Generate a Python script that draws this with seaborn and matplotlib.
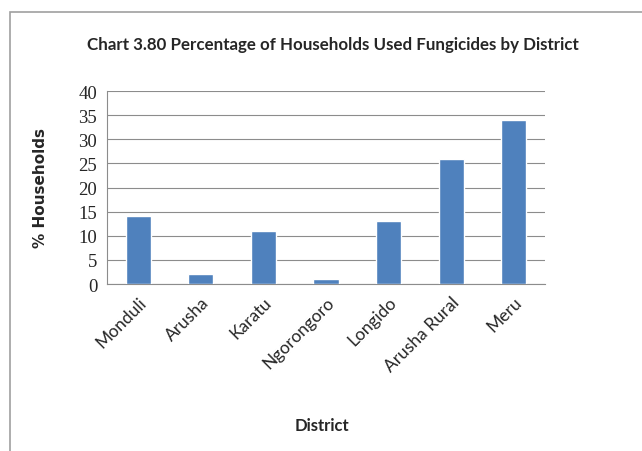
import numpy as np
import pandas as pd
import matplotlib
matplotlib.use('Agg')
import matplotlib.pyplot as plt
import matplotlib.patches as patches
import seaborn as sns

districts = ['Monduli', 'Arusha', 'Karatu', 'Ngorongoro', 'Longido', 'Arusha Rural', 'Meru']
pct = [14, 2, 11, 1, 13, 26, 34]
yticks = [0, 5, 10, 15, 20, 25, 30, 35, 40]

df = pd.DataFrame({'District': districts, 'pct': pct})

sns.set_style('white')
plt.rcParams['font.family'] = ['Lato', 'DejaVu Sans']

fig = plt.figure(figsize=(6.42, 4.52), dpi=100)
ax = fig.add_axes([107/642, 1-285/452, (545-107)/642, (285-92)/452])

sns.barplot(data=df, x='District', y='pct', color='#4F81BD', width=0.4, saturation=1, ax=ax, zorder=3)

ax.set_ylim(0, 40)
ax.set_xlim(-0.5, len(districts)-0.5)
ax.set_yticks(yticks)
ax.set_yticklabels([str(t) for t in yticks], family='Liberation Serif', fontsize=13.5)
ax.yaxis.grid(True, color='#8c8c8c', linewidth=0.8, zorder=0)
ax.tick_params(axis='y', length=5, color='#8c8c8c', pad=2)

ax.set_xticks(range(len(districts)))
ax.set_xticklabels(districts, rotation=45, ha='right', rotation_mode='anchor', fontsize=12.5)
ax.tick_params(axis='x', which='major', length=0, pad=7)
ax.set_xticks(np.arange(-0.5, len(districts), 1), minor=True)
ax.tick_params(axis='x', which='minor', length=5, color='#8c8c8c')

for s in ['top', 'right']:
    ax.spines[s].set_visible(False)
for s in ['left', 'bottom']:
    ax.spines[s].set_color('#8c8c8c')
    ax.spines[s].set_linewidth(0.8)

ax.set_xlabel('District', fontsize=12, fontweight='bold', labelpad=14)
ax.xaxis.set_label_coords(0.49, -0.69)
ax.set_ylabel('% Households', fontsize=11, fontweight='bold', family='DejaVu Sans')
ax.yaxis.set_label_coords(-0.135, 0.5)

fig.text(0.518, 1-45/452, 'Chart 3.80 Percentage of Households Used Fungicides by District',
         ha='center', va='center', fontsize=12.2, fontweight='bold')

border = patches.Rectangle((10/642, -0.1), 1.2, 1-13/452+0.1, transform=fig.transFigure,
                           fill=False, edgecolor='#a0a0a0', linewidth=1.2)
fig.patches.append(border)

fig.savefig('out.png', dpi=100)
